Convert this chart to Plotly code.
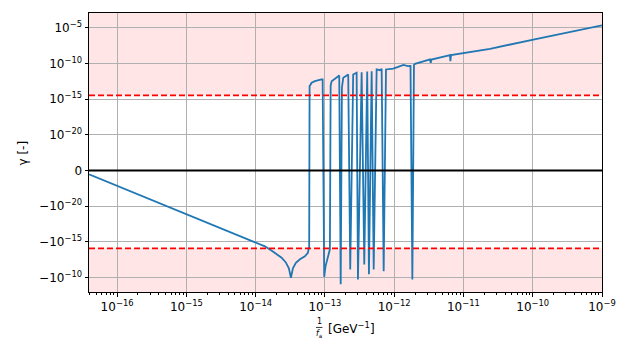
import numpy as np
import plotly.graph_objects as go

# ---- data ----
inv_fa = [3.93e-17, 9.8e-16, 1.0e-14, 1.23e-14, 1.36e-14, 1.71e-14, 2.37e-14, 2.73e-14,
          3.02e-14, 3.23e-14, 3.45e-14, 3.81e-14, 4.36e-14, 5.14e-14, 5.68e-14, 5.93e-14,
          6.01e-14, 6.43e-14, 7.16e-14, 8.95e-14, 9.27e-14, 9.77e-14, 1.02e-13, 1.18e-13,
          1.21e-13, 1.25e-13, 1.48e-13, 1.61e-13, 1.69e-13, 1.76e-13, 1.84e-13, 2.17e-13,
          2.32e-13, 2.56e-13, 2.87e-13, 3.0e-13, 3.39e-13, 3.70e-13, 4.08e-13, 4.32e-13,
          4.73e-13, 5.06e-13, 5.58e-13, 6.24e-13, 6.59e-13, 7.05e-13, 7.62e-13, 9.7e-13,
          1.14e-12, 1.36e-12, 1.58e-12, 1.72e-12, 1.83e-12, 1.93e-12, 2.0e-12, 3.29e-12,
          3.37e-12, 3.46e-12, 6.40e-12, 6.47e-12, 6.62e-12, 1.39e-11, 2.42e-11, 1.02e-10,
          1.0e-9]
gamma = [-3.6e-25, -1.15e-19, -1.2e-15, -2.7e-15, -4.4e-15, -1.86e-14, -1.7e-13, -7.8e-13,
         -5.4e-12, -1.15e-10, -5.4e-12, -9.1e-13, -2.9e-13, -1.1e-13, -3.5e-14, -4.4e-15,
         6.3e-14, 1.9e-13, 3.2e-13, 5.6e-13, 5.6e-13, -8.3e-11, -2.8e-12, -1.15e-14,
         7.9e-14, 3.2e-13, 1.3e-12, 2.0e-12, -9.3e-10, 4.2e-14, 9.5e-13, 2.8e-12,
         -7.4e-12, 2.8e-12, 4.8e-12, -1.9e-10, 5.9e-12, -1.5e-12, 7.4e-12, -3.7e-11,
         8.1e-12, -7.4e-12, 1.4e-11, 1.1e-11, 1.7e-11, -1.4e-11, 1.4e-11, 1.9e-11,
         3.2e-11, 6e-11, 4.1e-11, 4.4e-11, -1.9e-10, 6e-11, 8.7e-11, 3.5e-10,
         1.2e-10, 3.5e-10, 1.4e-9, 2.0e-10, 1.45e-9, 5.1e-9, 1.1e-8, 2.2e-7,
         2.2e-5]

upper_limit = 3.3e-15
lower_limit = -8.7e-15
y_min, y_max = -1.1e-8, 1.15e-3
x_min, x_max = 3.93e-17, 1e-9

y_tick_values = [1e-5, 1e-10, 1e-15, 1e-20, 0.0, -1e-20, -1e-15, -1e-10]
y_tick_labels = ["10<sup>−5</sup>", "10<sup>−10</sup>", "10<sup>−15</sup>", "10<sup>−20</sup>", "0",
                 "−10<sup>−20</sup>", "−10<sup>−15</sup>", "−10<sup>−10</sup>"]
x_tick_values = [1e-16, 1e-15, 1e-14, 1e-13, 1e-12, 1e-11, 1e-10, 1e-9]
x_tick_labels = ["10<sup>−16</sup>", "10<sup>−15</sup>", "10<sup>−14</sup>", "10<sup>−13</sup>",
                 "10<sup>−12</sup>", "10<sup>−11</sup>", "10<sup>−10</sup>", "10<sup>−9</sup>"]

# symmetric-log style scale (linear threshold 1e-25)
LINTHRESH = 1e-25


def sym(v):
    v = np.asarray(v, dtype=float)
    a = np.abs(v)
    out = np.where(a > LINTHRESH, np.sign(v) * (np.log10(np.maximum(a, 1e-300)) - np.log10(LINTHRESH)),
                   v / LINTHRESH)
    return out


FONT = "DejaVu Sans"
BLUE = "#1f77b4"

fig = go.Figure()
fig.add_trace(go.Scatter(x=inv_fa, y=sym(gamma), mode="lines",
                         line=dict(color=BLUE, width=1.8), showlegend=False,
                         hoverinfo="skip"))

ylo, yhi = float(sym(y_min)), float(sym(y_max))
t_up, t_lo = float(sym(upper_limit)), float(sym(lower_limit))

shapes = [
    dict(type="rect", xref="paper", yref="y", x0=0, x1=1, y0=t_up, y1=yhi,
         fillcolor="rgba(255,0,0,0.1)", line=dict(width=0), layer="below"),
    dict(type="rect", xref="paper", yref="y", x0=0, x1=1, y0=ylo, y1=t_lo,
         fillcolor="rgba(255,0,0,0.1)", line=dict(width=0), layer="below"),
    dict(type="line", xref="paper", yref="y", x0=0, x1=1, y0=t_up, y1=t_up,
         line=dict(color="red", width=1.8, dash="6px,3px")),
    dict(type="line", xref="paper", yref="y", x0=0, x1=1, y0=t_lo, y1=t_lo,
         line=dict(color="red", width=1.8, dash="6px,3px")),
    dict(type="line", xref="paper", yref="y", x0=0, x1=1, y0=0, y1=0,
         line=dict(color="black", width=2)),
    # fraction bar of the x label
    dict(type="line", xref="paper", yref="paper", x0=0.4425, x1=0.455, y0=-0.127, y1=-0.127,
         line=dict(color="black", width=0.8)),
]

minor_x = [m * 10.0 ** k for k in range(-17, -9) for m in range(2, 10)
           if x_min <= m * 10.0 ** k <= x_max]

# the page body adds an 8px offset, so the margins are reduced accordingly
fig.update_layout(
    width=615, height=353,
    margin=dict(l=81, r=21, t=5, b=69),
    paper_bgcolor="white", plot_bgcolor="white",
    font=dict(family=FONT, size=12, color="black"),
    shapes=shapes,
    xaxis=dict(type="log", range=[np.log10(x_min), np.log10(x_max)],
               tickmode="array", tickvals=x_tick_values, ticktext=x_tick_labels,
               ticks="outside", ticklen=3.5, tickcolor="black", tickwidth=1,
               showgrid=True, gridcolor="#b0b0b0", gridwidth=0.8,
               showline=True, mirror=True, linecolor="black", linewidth=1,
               zeroline=False,
               minor=dict(tickmode="array", tickvals=minor_x, ticks="outside", ticklen=2,
                          tickcolor="black", tickwidth=0.6, showgrid=False)),
    yaxis=dict(range=[ylo, yhi], tickmode="array", tickvals=list(sym(y_tick_values)),
               ticktext=y_tick_labels,
               ticks="outside", ticklen=3.5, tickcolor="black", tickwidth=1,
               showgrid=True, gridcolor="#b0b0b0", gridwidth=0.8,
               showline=True, mirror=True, linecolor="black", linewidth=1,
               zeroline=False),
    annotations=[
        dict(text="γ [-]", xref="paper", yref="paper", x=-0.1287, y=0.5, textangle=-90,
             showarrow=False, font=dict(size=12), xanchor="center", yanchor="middle"),
        dict(text="1", xref="paper", yref="paper", x=0.449, y=-0.1075, showarrow=False,
             font=dict(size=8), xanchor="center", yanchor="middle"),
        dict(text="<i>f</i><sub>a</sub>", xref="paper", yref="paper", x=0.449, y=-0.15,
             showarrow=False, font=dict(size=8), xanchor="center", yanchor="middle"),
        dict(text="[GeV<sup>−1</sup>]", xref="paper", yref="paper", x=0.462, y=-0.13,
             showarrow=False, font=dict(size=12), xanchor="left", yanchor="middle"),
    ],
)

fig.write_html("out.html")
